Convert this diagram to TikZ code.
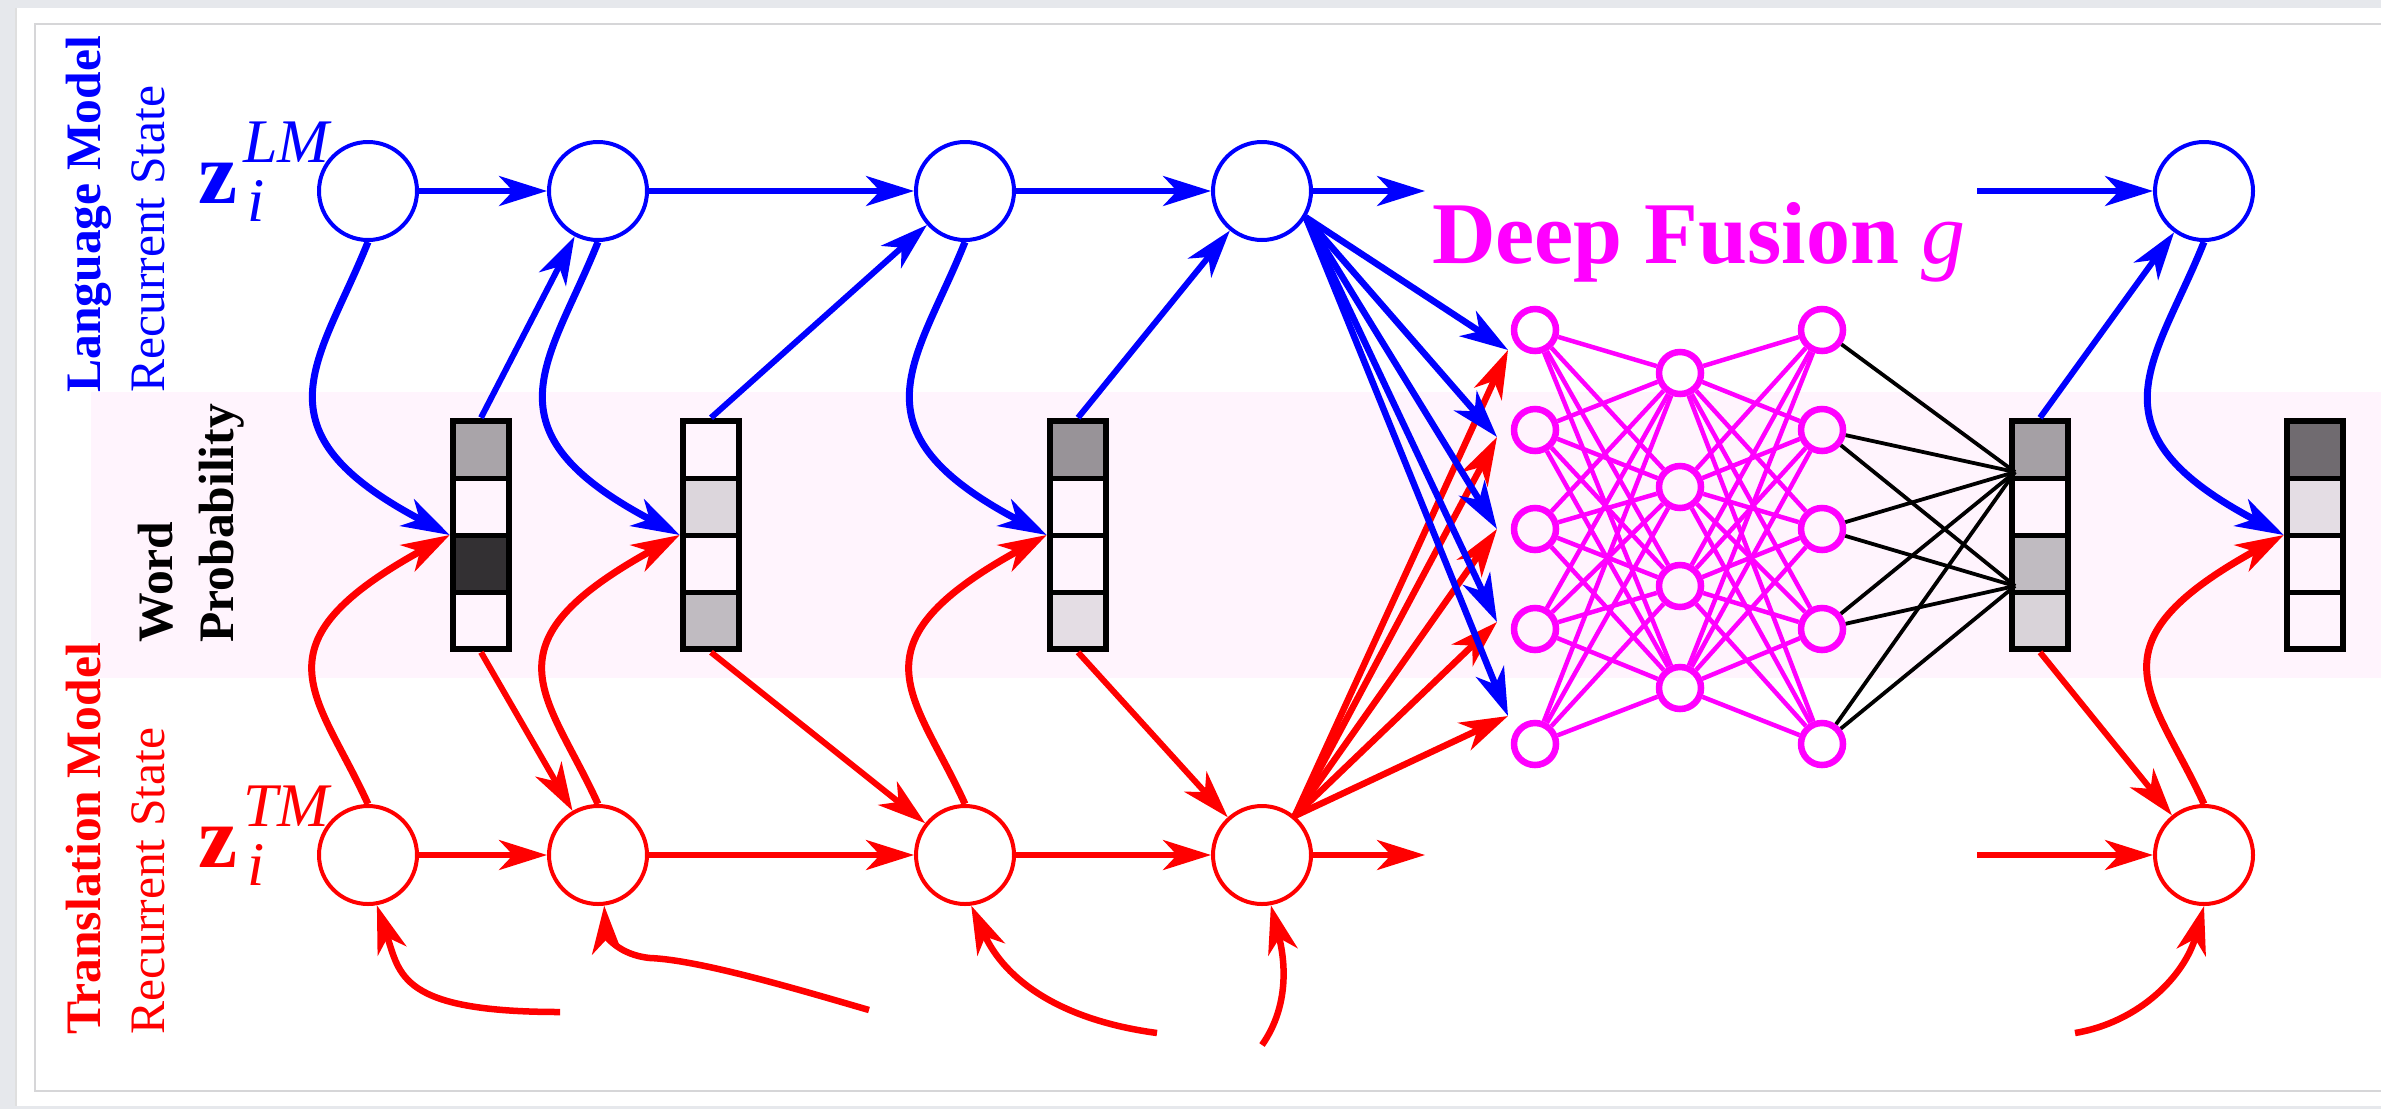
\documentclass[tikz,border=0pt]{standalone}
\usepackage{fontspec}
\setmainfont{Liberation Serif}
\usetikzlibrary{arrows.meta,calc}

\definecolor{pagegray}{RGB}{230,232,236}
\definecolor{framegray}{RGB}{214,214,216}
\definecolor{bandpink}{RGB}{255,244,253}
\definecolor{fusion}{RGB}{255,0,255}
\definecolor{lmblue}{RGB}{0,0,255}
\definecolor{tmred}{RGB}{255,0,0}
\definecolor{gA}{RGB}{169,164,169}
\definecolor{gB}{RGB}{51,48,51}
\definecolor{gC}{RGB}{220,214,220}
\definecolor{gD}{RGB}{192,187,193}
\definecolor{gE}{RGB}{152,147,152}
\definecolor{gF}{RGB}{228,221,228}
\definecolor{gG}{RGB}{165,160,165}
\definecolor{gH}{RGB}{217,211,217}
\definecolor{gI}{RGB}{112,107,112}

% word-probability column: name, centre x, four cell fills (top to bottom)
\newcommand\wordbox[6]{%
  \foreach \f [count=\k from 0] in {#3,#4,#5,#6}{%
    \fill[\f] ({#2-28},{421+57*\k}) rectangle ({#2+28},{478+57*\k});}
  \foreach \k in {1,2,3}{%
    \draw[line width=5pt] ({#2-28},{421+57*\k}) -- ({#2+28},{421+57*\k});}
  \node[wbox] (#1) at (#2,535) {};%
}

% state symbol z with subscript i and a superscript
\newcommand\zsym[1]{{\fontsize{88}{88}\selectfont\bfseries z}\kern6pt%
  \rlap{\kern4pt\raisebox{-18pt}{\fontsize{62}{62}\selectfont\itshape i}}%
  \raisebox{41pt}{\fontsize{62}{62}\selectfont\itshape #1}}

\tikzset{
  >={Stealth[length=48pt,width=30pt,inset=14pt]},
  lmnode/.style={circle,draw=lmblue,line width=4pt,minimum size=98pt,inner sep=0pt},
  tmnode/.style={circle,draw=tmred,line width=4pt,minimum size=98pt,inner sep=0pt},
  nnnode/.style={circle,draw=fusion,line width=6.5pt,minimum size=42pt,inner sep=0pt},
  wbox/.style={rectangle,draw=black,line width=6.5pt,minimum width=56pt,minimum height=228pt,inner sep=0pt},
  hlm/.style={->,draw=lmblue,line width=5.5pt},
  htm/.style={->,draw=tmred,line width=5.5pt},
  dlm/.style={->,draw=lmblue,line width=6pt},
  dtm/.style={->,draw=tmred,line width=6pt},
  clm/.style={->,draw=lmblue,line width=7pt},
  ctm/.style={->,draw=tmred,line width=7pt},
  btm/.style={->,draw=tmred,line width=6.5pt},
  fanlm/.style={->,draw=lmblue,line width=6.5pt},
  fantm/.style={->,draw=tmred,line width=6.5pt},
  nnedge/.style={draw=fusion,line width=4.5pt},
  outedge/.style={draw=black,line width=3.8pt},
  sidelabel/.style={anchor=base west,rotate=90,inner sep=0pt,font=\fontsize{49.6}{59.5}\selectfont},
}

\begin{document}
\begin{tikzpicture}[x=1pt,y=-1pt]
\useasboundingbox (0,0) rectangle (2381,1109);

% page and frame
\fill[pagegray] (0,0) rectangle (2381,1109);
\fill[white] (17,8) rectangle (2381,1106);
\draw[gray!25,line width=2pt] (16,8) -- (16,1106);
\draw[framegray,line width=2.5pt] (35,24) rectangle (2400,1091);

% word-probability band
\fill[bandpink] (91,392) rectangle (2381,678);

% side labels
\node[sidelabel,text=lmblue,font=\fontsize{49.6}{59.5}\selectfont\bfseries] (lmtitle) at (100,393) {Language Model};
\node[sidelabel,text=lmblue] (lmsub) at (164,393) {Recurrent State};
\node[sidelabel,text=tmred,font=\fontsize{49.6}{59.5}\selectfont\bfseries] (tmtitle) at (100,1035) {Translation Model};
\node[sidelabel,text=tmred] (tmsub) at (164,1035) {Recurrent State};
\node[sidelabel,font=\fontsize{49.6}{59.5}\selectfont\bfseries] (wordlbl) at (172,643) {Word};
\node[sidelabel,font=\fontsize{49.6}{59.5}\selectfont\bfseries] (problbl) at (233,643) {Probability};

\node[anchor=base west,inner sep=0pt,text=lmblue] (zlm) at (198,203) {\zsym{LM}};
\node[anchor=base west,inner sep=0pt,text=tmred] (ztm) at (198,867) {\zsym{TM}};

\node[anchor=base west,inner sep=0pt,text=fusion,font=\fontsize{88}{88}\selectfont] (dftitle) at (1432,263)
  {\bfseries Deep Fusion {\mdseries\itshape g}};

% word-probability columns
\wordbox{box1}{481}{gA}{bandpink}{gB}{bandpink}
\wordbox{box2}{711}{bandpink}{gC}{bandpink}{gD}
\wordbox{box3}{1078}{gE}{bandpink}{bandpink}{gF}
\wordbox{box4}{2040}{gG}{bandpink}{gD}{gH}
\wordbox{box5}{2315}{gI}{gF}{bandpink}{bandpink}

% recurrent states
\foreach \n/\x in {1/368,2/598,3/965,4/1262,5/2204}{
  \node[lmnode] (lm\n) at (\x,191) {};
  \node[tmnode] (tm\n) at (\x,855) {};
}
\coordinate (lmout) at (1425,191);
\coordinate (lmin)  at (1977,191);
\coordinate (tmout) at (1425,855);
\coordinate (tmin)  at (1977,855);

% fusion network
\foreach \k/\y in {1/330,2/430,3/529,4/629,5/744}{
  \node[nnnode] (in\k) at (1535,\y) {};
  \node[nnnode] (out\k) at (1822,\y) {};
}
\foreach \k/\y in {1/373,2/487,3/586,4/688}{
  \node[nnnode] (hd\k) at (1680,\y) {};
}
\foreach \i in {1,...,5}{
  \foreach \j in {1,...,4}{
    \draw[nnedge] (in\i) -- (hd\j);
    \draw[nnedge] (hd\j) -- (out\i);
  }
}
\coordinate (j1) at (2015,472);
\coordinate (j2) at (2015,586);
\draw[outedge] (out1) -- (j1);
\foreach \i in {2,...,5}{
  \draw[outedge] (out\i) -- (j1);
  \draw[outedge] (out\i) -- (j2);
}

% inputs to the fusion network
\coordinate (a1) at (1508,350);
\coordinate (a2) at (1497,437);
\coordinate (a3) at (1497,529);
\coordinate (a4) at (1497,622);
\coordinate (a5) at (1508,716);
\foreach \k in {1,...,5}{
  \draw[fantm] (tm4.50) -- (a\k);
}
\foreach \k in {1,...,5}{
  \draw[fanlm] (lm4.-31) -- (a\k);
}

% recurrences along time
\draw[hlm] (lm1) -- (lm2);
\draw[hlm] (lm2) -- (lm3);
\draw[hlm] (lm3) -- (lm4);
\draw[hlm] (lm4) -- (lmout);
\draw[hlm] (lmin) -- (lm5);
\draw[htm] (tm1) -- (tm2);
\draw[htm] (tm2) -- (tm3);
\draw[htm] (tm3) -- (tm4);
\draw[htm] (tm4) -- (tmout);
\draw[htm] (tmin) -- (tm5);

% states into word probabilities
\foreach \n/\b in {1/box1,2/box2,3/box3,5/box5}{
  \draw[ctm] (tm\n.north) .. controls +(-50,-110) and +(-200,110) .. (\b.west);
}
\foreach \n/\b in {1/box1,2/box2,3/box3,5/box5}{
  \draw[clm] (lm\n.south) .. controls +(-48,120) and +(-200,-105) .. (\b.west);
}

% word probabilities into next states
\foreach \b/\n in {box1/2,box2/3,box3/4,box4/5}{
  \draw[dlm] (\b.north) -- (lm\n);
  \draw[dtm] (\b.south) -- (tm\n);
}

% incoming inputs of the translation model
\coordinate (s1) at (560,1012);
\coordinate (s2) at (869,1010);
\coordinate (s3) at (1157,1033);
\coordinate (s4) at (1262,1045);
\coordinate (s5) at (2075,1033);
\draw[btm] (s1) .. controls (400,1012) and (400,975) .. (tm1.-80);
\draw[btm] (s2) .. controls (800,990) and (700,960) .. (650,958) .. controls (618,955) and (606,935) .. (tm2.-83);
\draw[btm] (s3) .. controls (1060,1020) and (1005,980) .. (tm3.-83);
\draw[btm] (s4) .. controls (1290,1005) and (1285,960) .. (tm4.-80);
\draw[btm] (s5) .. controls (2140,1022) and (2185,975) .. (tm5.south);
\end{tikzpicture}
\end{document}
